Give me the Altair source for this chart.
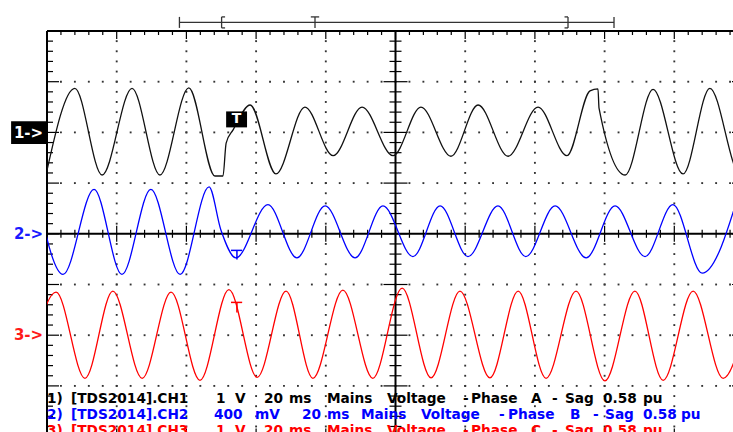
import altair as alt
import pandas as pd

# ---------------- waveform data: time (ms) and amplitude (V) at the turning points ----------------
ch1_t = [-100.3, -92.0, -84.2, -75.6, -67.6, -59.3, -51.8, -49.5, -48.6, -46.6, -41.7, -34.3, -26.0,
         -17.9, -9.6, -0.7, 7.3, 15.9, 23.7, 32.3, 40.9, 49.2, 55.8, 58.1, 58.4, 65.9, 73.9, 82.5,
         90.2, 98.9, 106.9]
ch1_v = [-0.84, 0.87, -0.84, 0.87, -0.84, 0.88, -0.86, -0.86, -0.21, 0.05, 0.54, -0.82, 0.50,
         -0.46, 0.50, -0.46, 0.50, -0.47, 0.54, -0.47, 0.50, -0.46, 0.82, 0.86, 0.48, -0.84, 0.85,
         -0.82, 0.87, -0.82, 0.87]

ch2_t = [-103.2, -95.4, -86.5, -78.5, -70.2, -61.8, -53.5, -50.1, -45.8, -36.6, -28.3, -20.2,
         -11.6, -3.6, 5.0, 12.8, 20.8, 29.4, 37.4, 45.8, 54.7, 63.0, 71.6, 79.6, 88.0, 98.9]
ch2_v = [0.35, -0.32, 0.35, -0.32, 0.35, -0.32, 0.37, 0.03, -0.19, 0.23, -0.19, 0.22, -0.19,
         0.22, -0.18, 0.22, -0.18, 0.22, -0.18, 0.22, -0.19, 0.22, -0.18, 0.23, -0.31, 0.35]

ch3_t = [-105.7, -97.4, -89.1, -81.1, -72.7, -64.4, -56.1, -47.8, -39.7, -31.4, -23.7, -15.1,
         -6.5, 1.9, 10.2, 18.5, 27.1, 35.2, 43.2, 51.8, 60.1, 68.7, 76.8, 85.4, 94.0, 102.3]
ch3_v = [-0.85, 0.85, -0.85, 0.87, -0.85, 0.85, -0.89, 0.90, -0.83, 0.87, -0.85, 0.89, -0.85,
         0.93, -0.84, 0.87, -0.84, 0.87, -0.85, 0.87, -0.90, 0.87, -0.89, 0.87, -0.85, 0.87]

channels = ["CH1", "CH2", "CH3"]
volts_per_div = [1.0, 0.4, 1.0]
ground_div = [2, 0, -2]
channel_colors = ["#111111", "#0000ff", "#ff0000"]
channel_marks = ["1->", "2->", "3->"]

# legend text (one list of words per line)
legend_words = [
    ["1)", "[TDS2014].CH1", "1", "V", "20", "ms", "Mains", "Voltage", "-", "Phase", "A", "-", "Sag", "0.58", "pu"],
    ["2)", "[TDS2014].CH2", "400", "mV", "20", "ms", "Mains", "Voltage", "-", "Phase", "B", "-", "Sag", "0.58", "pu"],
    ["3)", "[TDS2014].CH3", "1", "V", "20", "ms", "Mains", "Voltage", "-", "Phase", "C", "-", "Sag", "0.58", "pu"],
]

# ---------------- layout (data units: ms horizontally, divisions vertically) ----------------
MS_PER_PX = 20 / 69.7
DIV_PER_PX = 1 / 50.7
X_DOM = [-100, -100 + 686 * MS_PER_PX]
Y_DOM = [4 - 401 * DIV_PER_PX, 4.0]

word_x = [
    [-100.0, -93.11, -51.51, -46.05, -37.73, -30.56, -19.66, -2.44, 19.37, 21.66, 38.88, 44.90, 48.63, 59.54, 71.01],
    [-100.0, -93.11, -52.08, -40.31, -26.83, -19.66, -9.90, 7.32, 29.70, 32.28, 50.07, 56.67, 60.12, 71.01, 81.92],
    [-100.0, -93.11, -51.51, -46.05, -37.73, -30.56, -19.66, -2.44, 19.37, 21.66, 38.88, 44.90, 48.63, 59.54, 71.01],
]
word_y = [-3.345, -3.661, -3.976]

xs = alt.Scale(domain=X_DOM, nice=False, zero=False)
ys = alt.Scale(domain=Y_DOM, nice=False, zero=False)


def X(f):
    return alt.X(f"{f}:Q", scale=xs, axis=None)


def Y(f):
    return alt.Y(f"{f}:Q", scale=ys, axis=None)


# ---------------- tables ----------------
rows = []
for name, ts, vs, vpd, g in zip(channels, [ch1_t, ch2_t, ch3_t], [ch1_v, ch2_v, ch3_v],
                                volts_per_div, ground_div):
    for t, v in zip(ts, vs):
        rows.append({"ch": name, "t": t, "d": v / vpd + g})
waves = pd.DataFrame(rows)

# graticule dots
dots = []
for gx in [-80, -60, -40, -20, 20, 40, 60, 80]:
    for k in range(1, 40):
        dots.append({"x": gx, "y": -4 + 0.2 * k})
for gy in [-3, -2, -1, 1, 2, 3]:
    for k in range(1, 50):
        dots.append({"x": -100 + 4 * k, "y": gy})
dots = pd.DataFrame(dots)

# graticule ticks
ticks = []
for k in range(1, 50):
    x = -100 + 4 * k
    major = k % 5 == 0
    lv = (8 if major else 4) * DIV_PER_PX
    ticks.append({"x": x, "x2": x, "y": 4, "y2": 4 - lv})
    ticks.append({"x": x, "x2": x, "y": -4, "y2": -4 + lv})
    ticks.append({"x": x, "x2": x, "y": -lv, "y2": lv})
for k in range(1, 40):
    y = -4 + 0.2 * k
    major = k % 5 == 0
    lh = (12 if major else 6) * MS_PER_PX
    ticks.append({"x": -100, "x2": -100 + lh, "y": y, "y2": y})
    ticks.append({"x": 100, "x2": 100 - lh, "y": y, "y2": y})
    ticks.append({"x": -lh, "x2": lh, "y": y, "y2": y})
ticks = pd.DataFrame(ticks)

frame = pd.DataFrame([
    {"x": -100, "x2": -100, "y": -4, "y2": 4},
    {"x": 100, "x2": 100, "y": -4, "y2": 4},
    {"x": -100, "x2": 100, "y": 4, "y2": 4},
    {"x": -100, "x2": 100, "y": -4, "y2": -4},
    {"x": -100, "x2": 100, "y": 0, "y2": 0},
    {"x": 0, "x2": 0, "y": -4, "y2": 4},
])

# record / trigger bar above the screen
bar_y, bar_hi, bar_lo = 4.170, 4.278, 4.061
topbar = pd.DataFrame([
    {"x": -62.0, "x2": 62.7, "y": bar_y, "y2": bar_y},
    {"x": -62.0, "x2": -62.0, "y": bar_hi, "y2": bar_lo},
    {"x": 62.7, "x2": 62.7, "y": bar_hi, "y2": bar_lo},
    {"x": -49.9, "x2": -49.9, "y": bar_hi, "y2": bar_lo},
    {"x": -49.9, "x2": -48.9, "y": bar_hi, "y2": bar_hi},
    {"x": -49.9, "x2": -48.9, "y": bar_lo, "y2": bar_lo},
    {"x": 49.5, "x2": 49.5, "y": bar_hi, "y2": bar_lo},
    {"x": 48.5, "x2": 49.5, "y": bar_hi, "y2": bar_hi},
    {"x": 48.5, "x2": 49.5, "y": bar_lo, "y2": bar_lo},
    {"x": -24.3, "x2": -21.9, "y": bar_hi, "y2": bar_hi},
    {"x": -23.1, "x2": -23.1, "y": bar_hi, "y2": bar_lo},
])

# trigger markers on channels 2 and 3
trig = pd.DataFrame([
    {"x": -47.2, "x2": -44.0, "y": -0.327, "y2": -0.327, "col": "#0000ff"},
    {"x": -45.5, "x2": -45.5, "y": -0.327, "y2": -0.505, "col": "#0000ff"},
    {"x": -47.2, "x2": -44.0, "y": -1.353, "y2": -1.353, "col": "#ff0000"},
    {"x": -45.5, "x2": -45.5, "y": -1.353, "y2": -1.550, "col": "#ff0000"},
])

boxes = pd.DataFrame([
    {"x": -110.3, "x2": -100.0, "y": 2.22, "y2": 1.77},   # 1-> box
    {"x": -48.6, "x2": -42.6, "y": 2.414, "y2": 2.099},   # trigger T box
])
box_text = pd.DataFrame([
    {"x": -105.3, "y": 1.99, "text": channel_marks[0], "col": "#ffffff"},
    {"x": -105.3, "y": 0.0, "text": channel_marks[1], "col": "#1a1aff"},
    {"x": -105.3, "y": -2.0, "text": channel_marks[2], "col": "#ff1a1a"},
])
tbox_text = pd.DataFrame([{"x": -45.6, "y": 2.256, "text": "T"}])

lw = []
for words, xsw, y, col in zip(legend_words, word_x, word_y, ["#000000", "#0000ff", "#ff0000"]):
    for w, x in zip(words, xsw):
        lw.append({"text": w, "x": x, "y": y, "col": col})
legend_df = pd.DataFrame(lw)

# ---------------- layers ----------------
dot_layer = alt.Chart(dots).mark_square(size=3.5, color="#333333", opacity=1).encode(x=X("x"), y=Y("y"))
tick_layer = alt.Chart(ticks).mark_rule(color="#000000", strokeWidth=1.2).encode(
    x=X("x"), x2="x2:Q", y=Y("y"), y2="y2:Q")
frame_layer = alt.Chart(frame).mark_rule(color="#000000", strokeWidth=2).encode(
    x=X("x"), x2="x2:Q", y=Y("y"), y2="y2:Q")
bar_layer = alt.Chart(topbar).mark_rule(color="#333333", strokeWidth=1.3).encode(
    x=X("x"), x2="x2:Q", y=Y("y"), y2="y2:Q")

wave_layer = alt.Chart(waves).mark_line(interpolate="monotone", strokeWidth=1.3, clip=True).encode(
    x=X("t"), y=Y("d"),
    color=alt.Color("ch:N", scale=alt.Scale(domain=channels, range=channel_colors), legend=None))

trig_layer = alt.Chart(trig).mark_rule(strokeWidth=1.5).encode(
    x=X("x"), x2="x2:Q", y=Y("y"), y2="y2:Q", color=alt.Color("col:N", scale=None))

box_layer = alt.Chart(boxes).mark_rect(color="#000000").encode(x=X("x"), x2="x2:Q", y=Y("y"), y2="y2:Q")
box_text_layer = alt.Chart(box_text).mark_text(
    font="DejaVu Sans", fontWeight="bold", fontSize=15, align="center", baseline="middle").encode(
    x=X("x"), y=Y("y"), text="text:N", color=alt.Color("col:N", scale=None))
tbox_layer = alt.Chart(tbox_text).mark_text(
    font="DejaVu Sans", fontWeight="bold", fontSize=14, align="center", baseline="middle",
    color="#ffffff").encode(x=X("x"), y=Y("y"), text="text:N")

legend_layer = alt.Chart(legend_df).mark_text(
    font="DejaVu Sans", fontWeight="bold", fontSize=13.7, align="left", baseline="alphabetic").encode(
    x=X("x"), y=Y("y"), text="text:N", color=alt.Color("col:N", scale=None))

chart = alt.layer(
    dot_layer, tick_layer, frame_layer, bar_layer, wave_layer, trig_layer,
    box_layer, box_text_layer, tbox_layer, legend_layer
).properties(
    width=686, height=401,
    autosize=alt.AutoSizeParams(type="none"),
    padding={"left": 47, "top": 31, "right": 0, "bottom": 0},
    background="#ffffff",
).configure_view(stroke=None)

chart.save("out.html", embed_options={"renderer": "svg", "actions": False})
